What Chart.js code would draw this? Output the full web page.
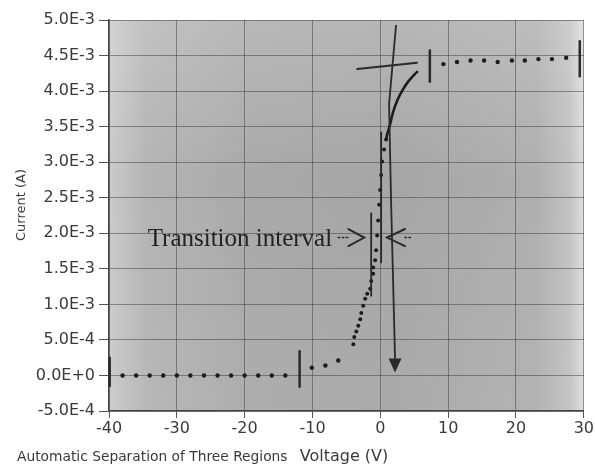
<!DOCTYPE html>
<html>
<head>
<meta charset="utf-8">
<script src="https://cdn.jsdelivr.net/npm/chart.js@4.4.0/dist/chart.umd.min.js"></script>
<style>
  html, body { margin: 0; padding: 0; background: #fff; }
  #wrap { width: 595px; height: 467px; }
</style>
</head>
<body>
<div id="wrap"><canvas id="ivChart" width="595" height="467"></canvas></div>
<script>
// tick positions
const xTicks = [-40, -30, -20, -10, 0, 10, 20, 30];
const yTicks = [-5e-4, 0, 5e-4, 1e-3, 1.5e-3, 2e-3, 2.5e-3, 3e-3, 3.5e-3, 4e-3, 4.5e-3, 5e-3];

// off region (V, A)
const offV = [-38, -36, -34, -32, -30, -28, -26, -24, -22, -20, -18, -16, -14, -10.1, -8.1, -6.2];
const offI = [0, 0, 0, 0, 0, 0, 0, 0, 0, 0, 0, 0, 0, 0.00011, 0.00014, 0.00021];

// transition region, sampled dots
const transV = [-3.98, -3.84, -3.54, -3.25, -2.96, -2.81, -2.52, -2.23, -1.93, -1.49, -1.35, -1.05,
                -1.05, -0.76, -0.62, -0.47, -0.32, -0.18, -0.03, 0.12, 0.26, 0.55, 0.85];
const transI = [0.00044, 0.00054, 0.00062, 0.00070, 0.00079, 0.00088, 0.00098, 0.00108, 0.00115, 0.00122, 0.00133, 0.00143,
                0.00152, 0.00162, 0.00176, 0.00197, 0.00218, 0.00240, 0.00261, 0.00282, 0.00301, 0.00318, 0.00332];

// knee (dots merge into a line)
const kneeV = [0.85, 1.0, 1.43, 1.87, 2.46, 3.19, 4.07, 5.10, 5.53];
const kneeI = [0.00332, 0.00339, 0.00353, 0.00370, 0.00386, 0.00400, 0.00413, 0.00424, 0.00428];

// saturated region
const satV = [9.3, 11.3, 13.3, 15.3, 17.3, 19.4, 21.3, 23.3, 25.3, 27.4];
const satI = [0.00438, 0.00441, 0.00443, 0.00443, 0.00441, 0.00443, 0.00443, 0.00445, 0.00445, 0.00447];

// hand drawn marks, in data units
const splitBars = [[-39.9, 0.00025, -0.00015], [-11.9, 0.00034, -0.00016], [7.3, 0.00457, 0.00413], [29.4, 0.0047, 0.00421]];
const boundLines = [[-1.35, 0.00228, 0.00112], [0.12, 0.00342, 0.00159]];
const crossLine = [[-3.4, 0.00431], [5.4, 0.0044]];
const pointerLine = [[2.31, 0.00492], [1.29, 0.00382], [1.58, 0.00247], [2.17, 0.00024]];
const pointerHead = [[1.22, 0.00024], [3.12, 0.00024], [2.17, 0.00004]];
const intervalLabel = ["Transition interval", -34.3, 0.00182];
const rightChevron = [[-4.71, 0.00206], [-2.37, 0.00194], [-4.71, 0.00182]];
const rightDots = [[-6.2, 0.00194], [-4.71, 0.00194]];
const leftChevron = [[3.63, 0.00206], [0.99, 0.00194], [3.63, 0.00182]];
const leftDots = [[3.63, 0.00194], [4.8, 0.00194]];

const toPts = (xs, ys) => xs.map((v, i) => ({ x: v, y: ys[i] }));
const ink = '#1c1c1c';
const txt = '#3a3a3a';

const scanBackground = {
  id: 'scanBackground',
  beforeDraw(chart) {
    const { ctx, chartArea: a } = chart;
    ctx.save();
    const g = ctx.createLinearGradient(a.left, 0, a.right, 0);
    g.addColorStop(0, '#cacaca');
    g.addColorStop(0.08, '#b4b4b4');
    g.addColorStop(0.3, '#a9a9a9');
    g.addColorStop(0.6, '#a6a6a6');
    g.addColorStop(0.9, '#afafaf');
    g.addColorStop(0.97, '#c2c2c2');
    g.addColorStop(1, '#dedede');
    ctx.fillStyle = g;
    ctx.fillRect(a.left, a.top, a.right - a.left, a.bottom - a.top);
    const v = ctx.createLinearGradient(0, a.top, 0, a.bottom);
    v.addColorStop(0, 'rgba(255,255,255,0.18)');
    v.addColorStop(0.4, 'rgba(255,255,255,0)');
    v.addColorStop(1, 'rgba(255,255,255,0.05)');
    ctx.fillStyle = v;
    ctx.fillRect(a.left, a.top, a.right - a.left, a.bottom - a.top);
    ctx.restore();
  }
};

const markup = {
  id: 'markup',
  afterDatasetsDraw(chart) {
    const { ctx, scales: { x, y } } = chart;
    const px = p => [x.getPixelForValue(p[0]), y.getPixelForValue(p[1])];
    const poly = (pts, w) => {
      ctx.lineWidth = w;
      ctx.beginPath();
      pts.forEach((p, i) => { const [a, b] = px(p); i ? ctx.lineTo(a, b) : ctx.moveTo(a, b); });
      ctx.stroke();
    };
    ctx.save();
    ctx.strokeStyle = '#2a2a2a';
    ctx.fillStyle = '#2a2a2a';
    ctx.lineCap = 'round';
    splitBars.forEach(b => poly([[b[0], b[1]], [b[0], b[2]]], 2.5));
    boundLines.forEach(b => poly([[b[0], b[1]], [b[0], b[2]]], 1.8));
    poly(crossLine, 2);
    poly(pointerLine, 1.8);
    ctx.beginPath();
    pointerHead.forEach((p, i) => { const [a, b] = px(p); i ? ctx.lineTo(a, b) : ctx.moveTo(a, b); });
    ctx.closePath();
    ctx.fill();
    poly(rightChevron, 2);
    poly(leftChevron, 2);
    ctx.setLineDash([1.5, 2.5]);
    poly(rightDots, 1.5);
    poly(leftDots, 1.5);
    ctx.setLineDash([]);
    // interval label
    const [lx, ly] = px([intervalLabel[1], intervalLabel[2]]);
    ctx.fillStyle = '#222';
    ctx.font = '25px "Liberation Serif", serif';
    ctx.textAlign = 'left';
    ctx.textBaseline = 'alphabetic';
    ctx.fillText(intervalLabel[0], lx, ly);
    // axis titles
    ctx.fillStyle = txt;
    ctx.font = '16px "DejaVu Sans", sans-serif';
    ctx.textAlign = 'center';
    ctx.fillText('Voltage (V)', 344, 461);
    ctx.font = '13.8px "DejaVu Sans", sans-serif';
    ctx.textAlign = 'left';
    ctx.fillText('Automatic Separation of Three Regions', 17, 461);
    ctx.font = '13px "DejaVu Sans", sans-serif';
    ctx.translate(25, 205);
    ctx.rotate(-Math.PI / 2);
    ctx.textAlign = 'center';
    ctx.fillText('Current (A)', 0, 0);
    ctx.restore();
  }
};

const dotStyle = { showLine: false, pointRadius: 2.2, pointBackgroundColor: ink, pointBorderWidth: 0, borderColor: ink };

new Chart(document.getElementById('ivChart'), {
  type: 'scatter',
  data: {
    datasets: [
      { data: toPts(offV, offI), ...dotStyle },
      { data: toPts(transV, transI), ...dotStyle, pointRadius: 2 },
      { data: toPts(kneeV, kneeI), showLine: true, borderColor: ink, borderWidth: 2.6, pointRadius: 0, tension: 0.2 },
      { data: toPts(satV, satI), ...dotStyle }
    ]
  },
  options: {
    responsive: false,
    devicePixelRatio: 1,
    animation: false,
    layout: { padding: { top: 20, right: 8, left: 0, bottom: 0 } },
    plugins: { legend: { display: false }, tooltip: { enabled: false } },
    scales: {
      x: {
        type: 'linear', min: -40, max: 30,
        afterBuildTicks: s => { s.ticks = xTicks.map(v => ({ value: v })); },
        afterFit: s => { s.height = 56; },
        ticks: { color: txt, font: { family: 'DejaVu Sans', size: 16 }, padding: 1, callback: v => String(v) },
        grid: { color: 'rgba(70,70,70,0.55)', lineWidth: 1, tickLength: 7, tickColor: '#555' },
        border: { color: '#444', width: 1.5 }
      },
      y: {
        type: 'linear', min: -5e-4, max: 5e-3,
        afterBuildTicks: s => { s.ticks = yTicks.map(v => ({ value: v })); },
        afterFit: s => { s.width = 109; },
        ticks: {
          color: txt, font: { family: 'DejaVu Sans', size: 16 }, padding: 4,
          callback: v => v === 0 ? '0.0E+0' : v.toExponential(1).toUpperCase()
        },
        grid: { color: 'rgba(70,70,70,0.55)', lineWidth: 1, tickLength: 10, tickColor: '#555' },
        border: { color: '#444', width: 1.5 }
      }
    }
  },
  plugins: [scanBackground, markup]
});
</script>
</body>
</html>
